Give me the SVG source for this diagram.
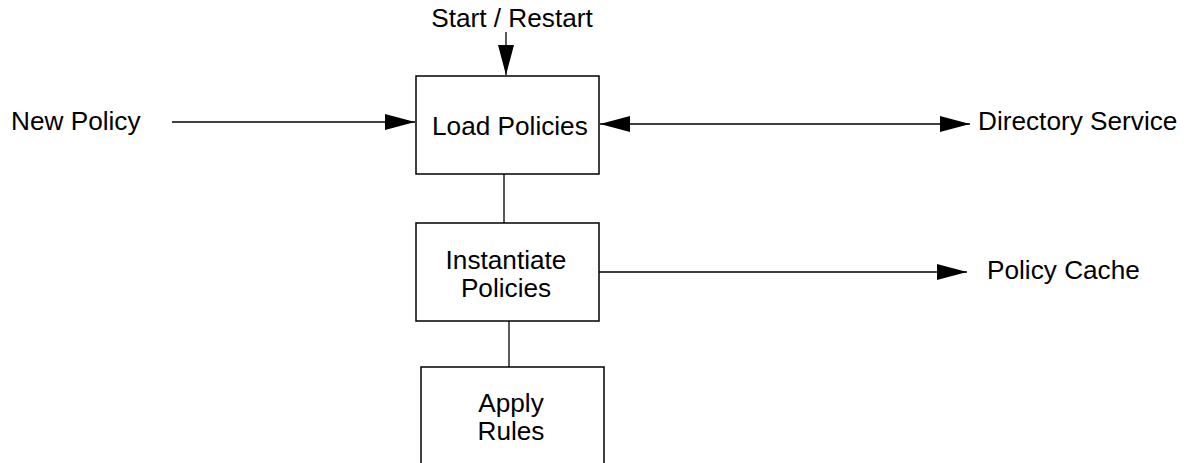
<svg xmlns="http://www.w3.org/2000/svg" width="1199" height="463" viewBox="0 0 1199 463">
  <style>
    .box { fill: #ffffff; stroke: #000000; stroke-width: 1.5; }
    .line { fill: none; stroke: #000000; stroke-width: 1.3; }
    text { font-family: "Liberation Sans", Arial, sans-serif; font-size: 26.2px; fill: #000000; }
    .mid { text-anchor: middle; }
  </style>
  <defs>
    <marker id="arrow" markerUnits="userSpaceOnUse" markerWidth="30" markerHeight="16" refX="30" refY="8" orient="auto-start-reverse" viewBox="0 0 30 16">
      <path d="M0,0 L30,8 L0,16 Z" fill="#000000"/>
    </marker>
  </defs>

  <rect width="1199" height="463" fill="#ffffff"/>

  <!-- connectors -->
  <g id="connectors">
    <line class="line" x1="506" y1="32" x2="506" y2="75" marker-end="url(#arrow)"/>
    <line class="line" x1="172" y1="122" x2="415" y2="122" marker-end="url(#arrow)"/>
    <line class="line" x1="600" y1="124" x2="970" y2="124" marker-start="url(#arrow)" marker-end="url(#arrow)"/>
    <line class="line" x1="504" y1="174" x2="504" y2="223"/>
    <line class="line" x1="599" y1="272" x2="967" y2="272" marker-end="url(#arrow)"/>
    <line class="line" x1="509" y1="321" x2="509" y2="367"/>
  </g>

  <!-- nodes -->
  <g id="start-restart">
    <text class="mid" x="512" y="27">Start / Restart</text>
  </g>
  <g id="new-policy">
    <text x="11" y="130">New Policy</text>
  </g>
  <g id="load-policies">
    <rect class="box" x="416" y="76" width="183" height="98"/>
    <text x="432" y="135">Load Policies</text>
  </g>
  <g id="directory-service">
    <text x="978" y="130">Directory Service</text>
  </g>
  <g id="instantiate-policies">
    <rect class="box" x="416" y="223" width="183" height="98"/>
    <text class="mid" x="506" y="269">Instantiate</text>
    <text class="mid" x="506" y="297">Policies</text>
  </g>
  <g id="policy-cache">
    <text x="987" y="279">Policy Cache</text>
  </g>
  <g id="apply-rules">
    <rect class="box" x="421" y="367" width="183" height="100"/>
    <text class="mid" x="511" y="412">Apply</text>
    <text class="mid" x="511" y="440">Rules</text>
  </g>
</svg>
